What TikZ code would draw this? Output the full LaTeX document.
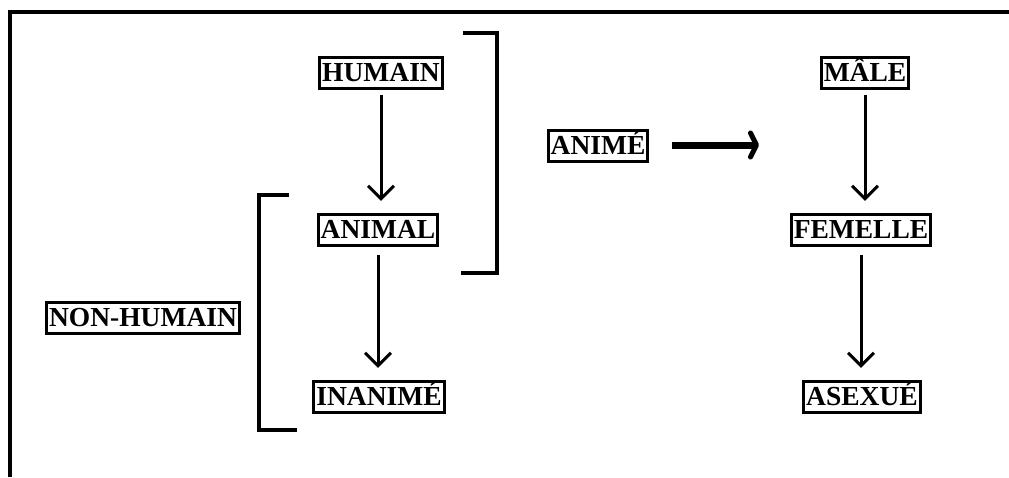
\documentclass[tikz,border=0pt]{standalone}
\usepackage{fontspec}
\setmainfont{Liberation Serif}
\usetikzlibrary{arrows.meta}
\tikzset{
  lbl/.style={draw, line width=3.2pt, inner xsep=2.5pt, inner ysep=2pt,
    text height=22pt, text depth=5pt,
    font=\fontsize{27.5}{30}\selectfont\bfseries},
  arr/.style={line width=3pt, -{Straight Barb[length=13pt,width=26pt,line width=3pt]}},
  bigarr/.style={line width=7pt, -{Straight Barb[length=6pt,width=24pt,line width=5pt,round]}},
  brk/.style={line width=3.5pt},
}
\begin{document}
\begin{tikzpicture}[x=1pt,y=-1pt]
\useasboundingbox (0,0) rectangle (1009,477);
\fill[white] (0,0) rectangle (1009,477);
\draw[line width=3.5pt] (1009,12) -- (10,12) -- (10,477);

\node[lbl] (humain) at (381,73) {HUMAIN};
\node[lbl] (animal) at (378,230) {ANIMAL};
\node[lbl] (inanime) at (379,397) {INANIMÉ};
\node[lbl] (nonhumain) at (143,318) {NON-HUMAIN};
\node[lbl] (anime) at (598,146) {ANIMÉ};
\node[lbl] (male) at (865,73) {MÂLE};
\node[lbl] (femelle) at (861,230) {FEMELLE};
\node[lbl] (asexue) at (862,397) {ASEXUÉ};

\draw[arr, shorten <=5pt, shorten >=12pt] (humain.south) -- (humain.south |- animal.north);
\draw[arr, shorten <=8pt, shorten >=12pt] (animal.south) -- (animal.south |- inanime.north);
\draw[arr, shorten <=5pt, shorten >=12pt] (male.south) -- (male.south |- femelle.north);
\draw[arr, shorten <=8pt, shorten >=12pt] (femelle.south) -- (femelle.south |- asexue.north);

\coordinate (bigend) at (759,145);
\draw[bigarr] (anime.east |- bigend) ++(23,0) -- (bigend);

\draw[brk] (463,33) -- (497,33) -- (497,273) -- (461,273);
\draw[brk] (289,195) -- (259,195) -- (259,430) -- (297,430);
\end{tikzpicture}
\end{document}
